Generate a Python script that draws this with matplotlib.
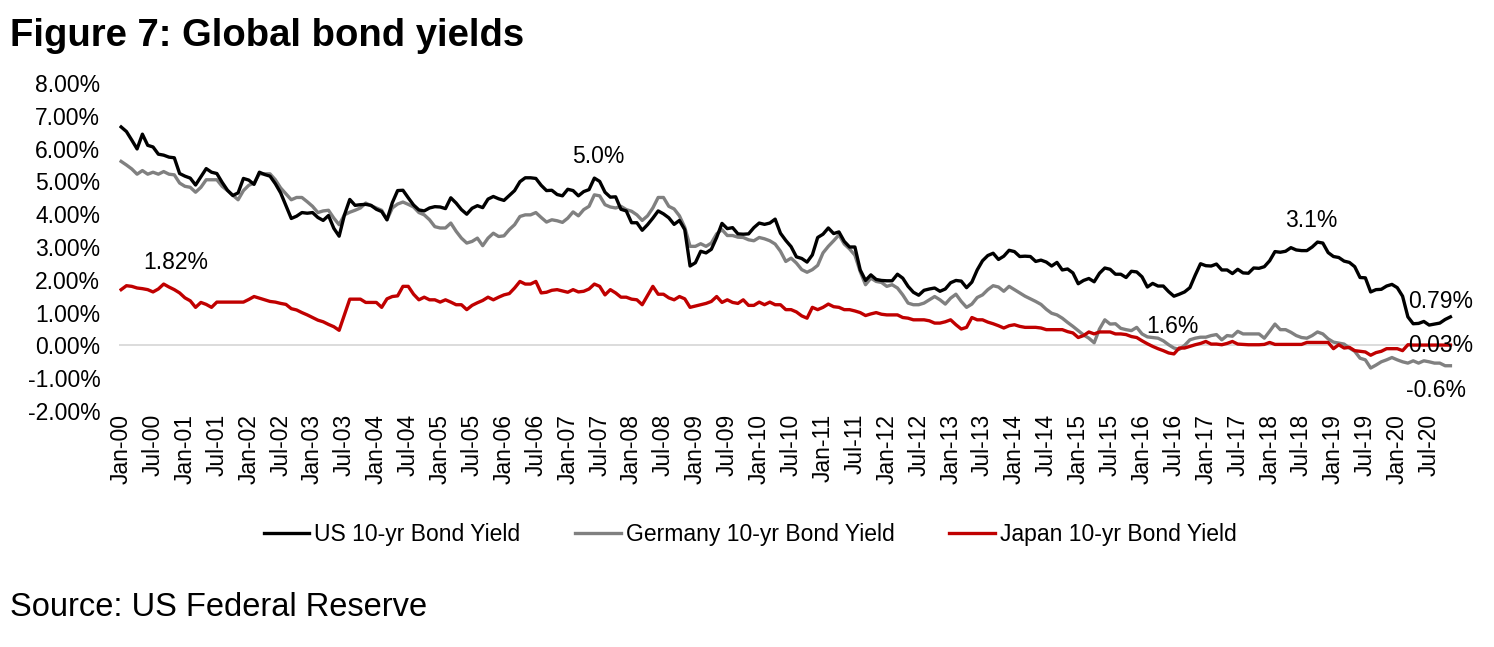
import matplotlib
matplotlib.use('Agg')
import matplotlib.pyplot as plt

plt.rcParams['font.family'] = ['Liberation Sans', 'DejaVu Sans']

# monthly 10-yr yields, Jan-00 .. Nov-20 (%)
us = [
    6.66, 6.52, 6.26, 5.99, 6.44, 6.10, 6.05, 5.83, 5.80, 5.74, 5.72, 5.24,  # 2000
    5.16, 5.10, 4.89, 5.14, 5.39, 5.28, 5.24, 4.97, 4.73, 4.57, 4.65, 5.09,  # 2001
    5.04, 4.91, 5.28, 5.21, 5.16, 4.93, 4.65, 4.26, 3.87, 3.94, 4.05, 4.03,  # 2002
    4.05, 3.90, 3.81, 3.96, 3.57, 3.33, 3.98, 4.45, 4.27, 4.29, 4.30, 4.27,  # 2003
    4.15, 4.08, 3.83, 4.35, 4.72, 4.73, 4.50, 4.28, 4.13, 4.10, 4.19, 4.23,  # 2004
    4.22, 4.17, 4.50, 4.34, 4.14, 4.00, 4.18, 4.26, 4.20, 4.46, 4.54, 4.47,  # 2005
    4.42, 4.57, 4.72, 4.99, 5.11, 5.11, 5.09, 4.88, 4.72, 4.73, 4.60, 4.56,  # 2006
    4.76, 4.72, 4.56, 4.69, 4.75, 5.10, 5.00, 4.67, 4.52, 4.53, 4.15, 4.10,  # 2007
    3.74, 3.74, 3.51, 3.68, 3.88, 4.10, 4.01, 3.89, 3.69, 3.81, 3.53, 2.42,  # 2008
    2.52, 2.87, 2.82, 2.93, 3.29, 3.72, 3.56, 3.59, 3.40, 3.39, 3.40, 3.59,  # 2009
    3.73, 3.69, 3.73, 3.85, 3.42, 3.20, 3.01, 2.70, 2.65, 2.54, 2.76, 3.29,  # 2010
    3.39, 3.58, 3.41, 3.46, 3.17, 3.00, 3.00, 2.30, 1.98, 2.15, 2.01, 1.98,  # 2011
    1.97, 1.97, 2.17, 2.05, 1.80, 1.62, 1.53, 1.68, 1.72, 1.75, 1.65, 1.72,  # 2012
    1.91, 1.98, 1.96, 1.76, 1.93, 2.30, 2.58, 2.74, 2.81, 2.62, 2.72, 2.90,  # 2013
    2.86, 2.71, 2.72, 2.71, 2.56, 2.60, 2.54, 2.42, 2.53, 2.30, 2.33, 2.21,  # 2014
    1.88, 1.98, 2.04, 1.94, 2.20, 2.36, 2.32, 2.17, 2.17, 2.07, 2.26, 2.24,  # 2015
    2.09, 1.78, 1.89, 1.81, 1.81, 1.64, 1.50, 1.56, 1.63, 1.76, 2.14, 2.49,  # 2016
    2.43, 2.42, 2.48, 2.30, 2.30, 2.19, 2.32, 2.21, 2.20, 2.36, 2.35, 2.40,  # 2017
    2.58, 2.86, 2.84, 2.87, 2.98, 2.91, 2.89, 2.89, 3.00, 3.15, 3.12, 2.83,  # 2018
    2.71, 2.68, 2.57, 2.53, 2.40, 2.07, 2.06, 1.63, 1.70, 1.71, 1.81, 1.86,  # 2019
    1.76, 1.50, 0.87, 0.66, 0.67, 0.73, 0.62, 0.65, 0.68, 0.79, 0.87,        # 2020
]

germany = [
    5.61, 5.50, 5.38, 5.22, 5.33, 5.22, 5.28, 5.22, 5.30, 5.22, 5.20, 4.95,
    4.85, 4.82, 4.67, 4.82, 5.05, 5.05, 5.05, 4.85, 4.72, 4.58, 4.44, 4.72,
    4.88, 4.95, 5.23, 5.23, 5.23, 5.05, 4.80, 4.62, 4.44, 4.51, 4.51, 4.38,
    4.24, 4.05, 4.10, 4.12, 3.88, 3.68, 3.98, 4.06, 4.12, 4.19, 4.34, 4.26,
    4.19, 4.12, 3.83, 4.19, 4.31, 4.37, 4.30, 4.22, 4.05, 3.98, 3.83, 3.62,
    3.58, 3.58, 3.73, 3.48, 3.27, 3.12, 3.17, 3.27, 3.04, 3.27, 3.42, 3.32,
    3.34, 3.53, 3.68, 3.93, 3.98, 3.98, 4.05, 3.90, 3.76, 3.83, 3.80, 3.75,
    3.88, 4.07, 3.95, 4.14, 4.24, 4.59, 4.56, 4.29, 4.22, 4.19, 4.24, 4.14,
    4.09, 3.98, 3.81, 3.95, 4.19, 4.51, 4.51, 4.24, 4.16, 3.95, 3.60, 3.02,
    3.02, 3.10, 3.02, 3.12, 3.40, 3.53, 3.35, 3.35, 3.30, 3.29, 3.22, 3.19,
    3.29, 3.25, 3.19, 3.09, 2.87, 2.56, 2.66, 2.51, 2.31, 2.23, 2.31, 2.44,
    2.82, 3.02, 3.19, 3.37, 3.09, 2.94, 2.75, 2.25, 1.85, 2.05, 1.95, 1.92,
    1.80, 1.85, 1.75, 1.54, 1.29, 1.24, 1.24, 1.29, 1.39, 1.49, 1.39, 1.26,
    1.44, 1.56, 1.34, 1.16, 1.26, 1.46, 1.54, 1.70, 1.82, 1.78, 1.65, 1.80,
    1.70, 1.60, 1.50, 1.42, 1.34, 1.25, 1.10, 0.98, 0.93, 0.83, 0.70, 0.58,
    0.45, 0.32, 0.22, 0.08, 0.50, 0.78, 0.65, 0.66, 0.52, 0.48, 0.45, 0.55,
    0.35, 0.26, 0.24, 0.22, 0.14, 0.02, -0.08, -0.12, 0.00, 0.17, 0.22, 0.25,
    0.25, 0.30, 0.33, 0.17, 0.30, 0.28, 0.43, 0.35, 0.35, 0.35, 0.35, 0.22,
    0.43, 0.65, 0.48, 0.48, 0.40, 0.30, 0.24, 0.22, 0.30, 0.41, 0.35, 0.20,
    0.10, 0.07, 0.04, -0.08, -0.18, -0.39, -0.44, -0.69, -0.60, -0.50, -0.44, -0.37,
    -0.44, -0.50, -0.54, -0.47, -0.54, -0.47, -0.50, -0.54, -0.54, -0.62, -0.62,
]

japan = [
    1.70, 1.82, 1.80, 1.75, 1.73, 1.70, 1.63, 1.72, 1.87, 1.78, 1.70, 1.60,
    1.45, 1.36, 1.16, 1.31, 1.25, 1.16, 1.32, 1.32, 1.32, 1.32, 1.32, 1.32,
    1.40, 1.49, 1.44, 1.39, 1.34, 1.32, 1.28, 1.25, 1.12, 1.08, 1.00, 0.93,
    0.85, 0.77, 0.72, 0.64, 0.57, 0.46, 0.93, 1.41, 1.41, 1.41, 1.31, 1.31,
    1.31, 1.16, 1.42, 1.49, 1.51, 1.80, 1.80, 1.56, 1.39, 1.47, 1.39, 1.39,
    1.32, 1.39, 1.32, 1.24, 1.24, 1.09, 1.22, 1.30, 1.37, 1.47, 1.39, 1.47,
    1.54, 1.58, 1.75, 1.95, 1.87, 1.87, 1.95, 1.60, 1.62, 1.68, 1.70, 1.66,
    1.62, 1.70, 1.63, 1.65, 1.72, 1.87, 1.80, 1.54, 1.70, 1.60, 1.47, 1.47,
    1.41, 1.39, 1.24, 1.52, 1.80, 1.56, 1.56, 1.45, 1.39, 1.49, 1.42, 1.16,
    1.20, 1.24, 1.28, 1.34, 1.49, 1.31, 1.39, 1.31, 1.28, 1.39, 1.22, 1.22,
    1.32, 1.24, 1.32, 1.24, 1.24, 1.09, 1.09, 1.02, 0.90, 0.83, 1.16, 1.09,
    1.16, 1.26, 1.18, 1.16, 1.09, 1.09, 1.05, 1.00, 0.91, 0.96, 1.00, 0.95,
    0.93, 0.93, 0.93, 0.85, 0.83, 0.78, 0.78, 0.78, 0.75, 0.68, 0.68, 0.72,
    0.78, 0.63, 0.50, 0.55, 0.85, 0.78, 0.78, 0.71, 0.66, 0.60, 0.53, 0.60,
    0.63, 0.58, 0.55, 0.55, 0.55, 0.53, 0.48, 0.48, 0.48, 0.48, 0.42, 0.38,
    0.24, 0.30, 0.41, 0.35, 0.41, 0.41, 0.41, 0.35, 0.35, 0.33, 0.27, 0.24,
    0.14, 0.05, -0.03, -0.10, -0.16, -0.23, -0.26, -0.08, -0.08, -0.03, 0.02, 0.06,
    0.12, 0.04, 0.04, 0.02, 0.06, 0.12, 0.04, 0.03, 0.02, 0.02, 0.02, 0.03,
    0.09, 0.03, 0.03, 0.03, 0.03, 0.03, 0.03, 0.09, 0.09, 0.09, 0.09, 0.09,
    -0.10, 0.02, -0.08, -0.06, -0.16, -0.18, -0.20, -0.30, -0.22, -0.18, -0.10, -0.10,
    -0.10, -0.16, 0.02, 0.01, 0.01, 0.01, 0.01, 0.01, 0.01, 0.01, 0.01,
]

years = ['%02d' % y for y in range(21)]
tick_labels = [m + '-' + y for y in years for m in ('Jan', 'Jul')]
tick_labels = tick_labels[:42]
ticks = list(range(0, 6 * len(tick_labels), 6))

# text labels on the chart: (text, month index, value, alignment)
notes = [
    ('1.82%', 4.1, 2.52, 'left'),
    ('5.0%', 89.8, 5.77, 'center'),
    ('3.1%', 223.8, 3.82, 'center'),
    ('1.6%', 197.7, 0.59, 'center'),
    ('0.79%', 242.1, 1.35, 'left'),
    ('0.03%', 242.1, 0.0, 'left'),
    ('-0.6%', 241.7, -1.39, 'left'),
]

fs = 16.5
fig = plt.figure(figsize=(14.94, 6.47), dpi=100)
ax = fig.add_axes([119 / 1494, 1 - 411 / 647, (1460 - 119) / 1494, (411 - 83) / 647])

x = list(range(len(us)))
ax.axhline(0, color='#d9d9d9', lw=1.3, zorder=1)
l_us, = ax.plot(x, us, color='black', lw=2.4, label='US 10-yr Bond Yield', zorder=3)
l_de, = ax.plot(x, germany, color='#808080', lw=2.4, label='Germany 10-yr Bond Yield', zorder=2)
l_jp, = ax.plot(x, japan, color='#c00000', lw=2.4, label='Japan 10-yr Bond Yield', zorder=4)

ax.set_xlim(-0.4, 251.8)
ax.set_ylim(-2, 8)
ax.set_yticks(range(-2, 9))
ax.set_yticklabels(['%.2f%%' % v for v in range(-2, 9)], fontsize=fs)
ax.set_xticks(ticks)
ax.set_xticklabels(tick_labels, rotation=90, fontsize=fs)
ax.tick_params(axis='y', length=0, pad=13.5)
ax.tick_params(axis='x', length=0, pad=2)
for s in ax.spines.values():
    s.set_visible(False)

for txt, xi, yv, ha in notes:
    ax.text(xi, yv, txt, fontsize=fs, ha=ha, va='center', zorder=5)

fig.legend(handles=[l_us, l_de, l_jp], loc='center', bbox_to_anchor=(750 / 1494, 1 - 535 / 647),
           ncol=3, frameon=False, fontsize=fs, handlelength=2.0, handletextpad=0.2,
           columnspacing=2.4)

fig.text(10 / 1494, 1 - 36 / 647, 'Figure 7: Global bond yields', fontsize=27.5,
         fontweight='bold', ha='left', va='center')
fig.text(10 / 1494, 1 - 608 / 647, 'Source: US Federal Reserve', fontsize=23.5,
         ha='left', va='center')

fig.savefig('out.png', dpi=100)
